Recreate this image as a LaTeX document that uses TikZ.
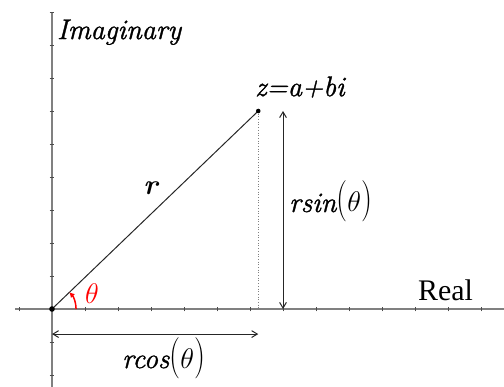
\documentclass[tikz,border=0pt]{standalone}
\usepackage{fix-cm}
\usepackage{fontspec}
\usepackage{graphicx}
\setmainfont{Latin Modern Roman}[ItalicFeatures={FakeBold=1.2}]
\newfontfamily\realfont{Liberation Serif}
\usetikzlibrary{arrows.meta}
\definecolor{axisgray}{gray}{0.5}
\newcommand{\tallp}[1]{\scalebox{1.1}[1.45]{\upshape#1}}
\newcommand{\argth}{\tallp{(}$\theta$\tallp{)}}
\tikzset{
  axisline/.style={axisgray,line width=1.6pt},
  tickmark/.style={black!70,line width=0.9pt},
  lbl/.style={inner sep=0pt,anchor=base west,font=\fontsize{28.5}{30}\selectfont\itshape},
  dimline/.style={black!85,line width=1pt,{Straight Barb[length=2mm,width=2.4mm]}-{Straight Barb[length=2mm,width=2.4mm]}}
}

\begin{document}
\begin{tikzpicture}[x=33bp,y=33bp]
  \useasboundingbox (-1.5758,-2.3636) rectangle (13.697,9.3636);
  % axes
  \coordinate (O) at (0,0);
  \coordinate (xl) at (-1.12,0);
  \coordinate (xr) at (13.697,0);
  \coordinate (yt) at (0,9);
  \coordinate (yb) at (0,-2.3636);
  \draw[axisline] (xl) -- (xr);
  \draw[axisline] (yb) -- (yt);
  \foreach \i in {-1,...,13}{\draw[tickmark] (\i,-0.07) -- (\i,0.07);}
  \foreach \j in {-2,...,9}{\draw[tickmark] (-0.07,\j) -- (0.07,\j);}
  % the point and its parts
  \coordinate (z) at (6.25,6);
  \coordinate (zx) at (6.25,0);
  \draw[black!85,line width=1pt] (O) -- (z);
  \draw[gray,dotted,line width=0.7pt] (z) -- (zx);
  \fill (O) circle (2.8bp);
  \fill (z) circle (2.3bp);
  \coordinate (st) at (7,6);
  \coordinate (sb) at (7,0);
  \draw[dimline] (st) -- (sb);
  \coordinate (cl) at (0,-0.76);
  \coordinate (cr) at (6.25,-0.76);
  \draw[dimline] (cl) -- (cr);
  \coordinate (arcs) at (0.73,0);
  \draw[red,line width=1.5pt,-{Latex[length=1.8mm,width=2mm]}] (arcs) arc[start angle=0,end angle=44,radius=0.73];
  % labels
  \node[lbl] (imag) at (0.15,8.18) {Imaginary};
  \node[lbl,font=\fontsize{30}{30}\selectfont\realfont] (real) at (11.09,0.25) {Real};
  \node[lbl] (zlab) at (6.15,6.45) {z=a+bi};
  \node[lbl,font=\fontsize{28.5}{30}\selectfont\bfseries\itshape] (rlab) at (2.76,3.48) {r};
  \node[lbl] (rsin) at (7.18,2.94) {rsin\argth};
  \node[lbl] (rcos) at (2.12,-1.79) {rcos\argth};
  \node[lbl,text=red] (th) at (1.0,0.18) {$\theta$};
\end{tikzpicture}
\end{document}
